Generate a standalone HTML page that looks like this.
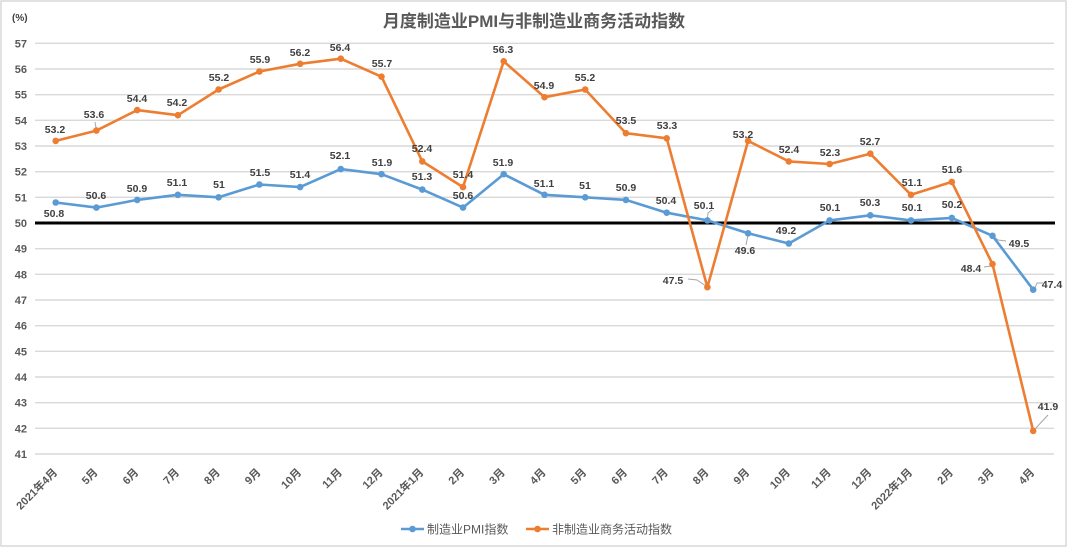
<!DOCTYPE html>
<html>
<head>
<meta charset="utf-8">
<style>
html,body{margin:0;padding:0;background:#fff;}
svg{display:block;}
text{font-family:"Liberation Sans","Noto Sans CJK SC",sans-serif;}
.dl{font-size:10.5px;font-weight:bold;fill:#404040;text-anchor:middle;}
.yl{font-size:11px;font-weight:bold;fill:#595959;text-anchor:end;}
.xl{font-size:11px;font-weight:bold;fill:#595959;text-anchor:end;}
</style>
</head>
<body>
<svg width="1069" height="547" viewBox="0 0 1069 547" xmlns="http://www.w3.org/2000/svg">
<rect x="0" y="0" width="1069" height="547" fill="#fff"/>
<rect x="1" y="1" width="1065" height="545" fill="none" stroke="#d9d9d9" stroke-width="1.5"/>

<text x="534" y="27" text-anchor="middle" style="font-size:17px;font-weight:bold;fill:#595959;font-family:'Liberation Sans','Noto Sans CJK SC',sans-serif;">月度制造业PMI与非制造业商务活动指数</text>

<text x="12" y="21" style="font-size:10px;font-weight:bold;fill:#404040;">(%)</text>

<!-- gridlines -->
<g stroke="#d9d9d9" stroke-width="1.4">
<line x1="35" x2="1054" y1="43.3" y2="43.3"/>
<line x1="35" x2="1054" y1="69.0" y2="69.0"/>
<line x1="35" x2="1054" y1="94.7" y2="94.7"/>
<line x1="35" x2="1054" y1="120.3" y2="120.3"/>
<line x1="35" x2="1054" y1="146.0" y2="146.0"/>
<line x1="35" x2="1054" y1="171.7" y2="171.7"/>
<line x1="35" x2="1054" y1="197.3" y2="197.3"/>
<line x1="35" x2="1054" y1="248.7" y2="248.7"/>
<line x1="35" x2="1054" y1="274.3" y2="274.3"/>
<line x1="35" x2="1054" y1="300.0" y2="300.0"/>
<line x1="35" x2="1054" y1="325.7" y2="325.7"/>
<line x1="35" x2="1054" y1="351.3" y2="351.3"/>
<line x1="35" x2="1054" y1="377.0" y2="377.0"/>
<line x1="35" x2="1054" y1="402.7" y2="402.7"/>
<line x1="35" x2="1054" y1="428.3" y2="428.3"/>
<line x1="35" x2="1054" y1="454.0" y2="454.0"/>
</g>
<line x1="35" x2="1055" y1="223" y2="223" stroke="#000" stroke-width="3"/>

<!-- y labels -->
<g class="yl">
<text x="27" y="47.3">57</text>
<text x="27" y="73.0">56</text>
<text x="27" y="98.7">55</text>
<text x="27" y="124.3">54</text>
<text x="27" y="150.0">53</text>
<text x="27" y="175.7">52</text>
<text x="27" y="201.3">51</text>
<text x="27" y="227.0">50</text>
<text x="27" y="252.7">49</text>
<text x="27" y="278.3">48</text>
<text x="27" y="304.0">47</text>
<text x="27" y="329.7">46</text>
<text x="27" y="355.3">45</text>
<text x="27" y="381.0">44</text>
<text x="27" y="406.7">43</text>
<text x="27" y="432.3">42</text>
<text x="27" y="458.0">41</text>
</g>

<!-- x labels -->
<g class="xl">
<text transform="translate(58,473) rotate(-45)">2021年4月</text>
<text transform="translate(98.4,473) rotate(-45)">5月</text>
<text transform="translate(139.2,473) rotate(-45)">6月</text>
<text transform="translate(179.9,473) rotate(-45)">7月</text>
<text transform="translate(220.6,473) rotate(-45)">8月</text>
<text transform="translate(261.4,473) rotate(-45)">9月</text>
<text transform="translate(302.1,473) rotate(-45)">10月</text>
<text transform="translate(342.8,473) rotate(-45)">11月</text>
<text transform="translate(383.5,473) rotate(-45)">12月</text>
<text transform="translate(424.3,473) rotate(-45)">2021年1月</text>
<text transform="translate(465.0,473) rotate(-45)">2月</text>
<text transform="translate(505.7,473) rotate(-45)">3月</text>
<text transform="translate(546.5,473) rotate(-45)">4月</text>
<text transform="translate(587.2,473) rotate(-45)">5月</text>
<text transform="translate(627.9,473) rotate(-45)">6月</text>
<text transform="translate(668.7,473) rotate(-45)">7月</text>
<text transform="translate(709.4,473) rotate(-45)">8月</text>
<text transform="translate(750.1,473) rotate(-45)">9月</text>
<text transform="translate(790.8,473) rotate(-45)">10月</text>
<text transform="translate(831.6,473) rotate(-45)">11月</text>
<text transform="translate(872.3,473) rotate(-45)">12月</text>
<text transform="translate(913.0,473) rotate(-45)">2022年1月</text>
<text transform="translate(953.8,473) rotate(-45)">2月</text>
<text transform="translate(994.5,473) rotate(-45)">3月</text>
<text transform="translate(1035.2,473) rotate(-45)">4月</text>
</g>

<!-- leader lines -->
<g stroke="#a6a6a6" stroke-width="1" fill="none">
<line x1="95" y1="122" x2="96.4" y2="130"/>
<polyline points="688,279 697,280 707.4,287"/>
<polyline points="712,210 708,213 707.4,219"/>
<line x1="746" y1="245" x2="748" y2="235"/>
<line x1="984" y1="267" x2="991" y2="266"/>
<polyline points="1006,241 998,240 994,237"/>
<polyline points="1043,283 1037,283 1035,288"/>
<line x1="1048" y1="415" x2="1035" y2="429"/>
</g>

<!-- manufacturing series -->
<polyline fill="none" stroke="#5B9BD5" stroke-width="2.6" stroke-linejoin="round"
points="55.7,202.5 96.4,207.6 137.2,199.9 177.9,194.8 218.6,197.3 259.4,184.5 300.1,187.1 340.8,169.1 381.5,174.2 422.3,189.6 463.0,207.6 503.7,174.2 544.5,194.8 585.2,197.3 625.9,199.9 666.7,212.7 707.4,220.4 748.1,233.3 788.8,243.5 829.6,220.4 870.3,215.3 911.0,220.4 951.8,217.9 992.5,235.8 1033.2,289.7"/>
<g fill="#5B9BD5">
<circle cx="55.7" cy="202.5" r="3.3"/><circle cx="96.4" cy="207.6" r="3.3"/><circle cx="137.2" cy="199.9" r="3.3"/><circle cx="177.9" cy="194.8" r="3.3"/><circle cx="218.6" cy="197.3" r="3.3"/><circle cx="259.4" cy="184.5" r="3.3"/><circle cx="300.1" cy="187.1" r="3.3"/><circle cx="340.8" cy="169.1" r="3.3"/><circle cx="381.5" cy="174.2" r="3.3"/><circle cx="422.3" cy="189.6" r="3.3"/><circle cx="463.0" cy="207.6" r="3.3"/><circle cx="503.7" cy="174.2" r="3.3"/><circle cx="544.5" cy="194.8" r="3.3"/><circle cx="585.2" cy="197.3" r="3.3"/><circle cx="625.9" cy="199.9" r="3.3"/><circle cx="666.7" cy="212.7" r="3.3"/><circle cx="707.4" cy="220.4" r="3.3"/><circle cx="748.1" cy="233.3" r="3.3"/><circle cx="788.8" cy="243.5" r="3.3"/><circle cx="829.6" cy="220.4" r="3.3"/><circle cx="870.3" cy="215.3" r="3.3"/><circle cx="911.0" cy="220.4" r="3.3"/><circle cx="951.8" cy="217.9" r="3.3"/><circle cx="992.5" cy="235.8" r="3.3"/><circle cx="1033.2" cy="289.7" r="3.3"/>
</g>

<!-- non-manufacturing series -->
<polyline fill="none" stroke="#ED7D31" stroke-width="2.6" stroke-linejoin="round"
points="55.7,140.9 96.4,130.6 137.2,110.1 177.9,115.2 218.6,89.5 259.4,71.5 300.1,63.8 340.8,58.7 381.5,76.7 422.3,161.4 463.0,187.1 503.7,61.3 544.5,97.2 585.2,89.5 625.9,133.2 666.7,138.3 707.4,287.2 748.1,140.9 788.8,161.4 829.6,164.0 870.3,153.7 911.0,194.8 951.8,181.9 992.5,264.1 1033.2,430.9"/>
<g fill="#ED7D31">
<circle cx="55.7" cy="140.9" r="3.3"/><circle cx="96.4" cy="130.6" r="3.3"/><circle cx="137.2" cy="110.1" r="3.3"/><circle cx="177.9" cy="115.2" r="3.3"/><circle cx="218.6" cy="89.5" r="3.3"/><circle cx="259.4" cy="71.5" r="3.3"/><circle cx="300.1" cy="63.8" r="3.3"/><circle cx="340.8" cy="58.7" r="3.3"/><circle cx="381.5" cy="76.7" r="3.3"/><circle cx="422.3" cy="161.4" r="3.3"/><circle cx="463.0" cy="187.1" r="3.3"/><circle cx="503.7" cy="61.3" r="3.3"/><circle cx="544.5" cy="97.2" r="3.3"/><circle cx="585.2" cy="89.5" r="3.3"/><circle cx="625.9" cy="133.2" r="3.3"/><circle cx="666.7" cy="138.3" r="3.3"/><circle cx="707.4" cy="287.2" r="3.3"/><circle cx="748.1" cy="140.9" r="3.3"/><circle cx="788.8" cy="161.4" r="3.3"/><circle cx="829.6" cy="164.0" r="3.3"/><circle cx="870.3" cy="153.7" r="3.3"/><circle cx="911.0" cy="194.8" r="3.3"/><circle cx="951.8" cy="181.9" r="3.3"/><circle cx="992.5" cy="264.1" r="3.3"/><circle cx="1033.2" cy="430.9" r="3.3"/>
</g>

<!-- manufacturing data labels -->
<g class="dl">
<text x="54" y="217">50.8</text>
<text x="96" y="199">50.6</text>
<text x="137" y="192">50.9</text>
<text x="177" y="186">51.1</text>
<text x="219" y="188">51</text>
<text x="260" y="176">51.5</text>
<text x="300" y="178">51.4</text>
<text x="340" y="159">52.1</text>
<text x="382" y="166">51.9</text>
<text x="422" y="180">51.3</text>
<text x="463" y="199">50.6</text>
<text x="503" y="166">51.9</text>
<text x="544" y="187">51.1</text>
<text x="585" y="189">51</text>
<text x="626" y="191">50.9</text>
<text x="666" y="204">50.4</text>
<text x="704" y="209">50.1</text>
<text x="745" y="254">49.6</text>
<text x="786" y="234">49.2</text>
<text x="830" y="211">50.1</text>
<text x="870" y="206">50.3</text>
<text x="912" y="211">50.1</text>
<text x="952" y="208">50.2</text>
<text x="1019" y="247">49.5</text>
<text x="1052" y="288">47.4</text>
</g>

<!-- non-manufacturing data labels -->
<g class="dl">
<text x="55" y="133">53.2</text>
<text x="94" y="118">53.6</text>
<text x="137" y="102">54.4</text>
<text x="177" y="106">54.2</text>
<text x="219" y="81">55.2</text>
<text x="260" y="63">55.9</text>
<text x="300" y="56">56.2</text>
<text x="340" y="51">56.4</text>
<text x="382" y="67">55.7</text>
<text x="422" y="152">52.4</text>
<text x="463" y="178">51.4</text>
<text x="503" y="53">56.3</text>
<text x="544" y="89">54.9</text>
<text x="585" y="81">55.2</text>
<text x="626" y="124">53.5</text>
<text x="667" y="129">53.3</text>
<text x="673" y="284">47.5</text>
<text x="743" y="138">53.2</text>
<text x="789" y="153">52.4</text>
<text x="830" y="156">52.3</text>
<text x="870" y="145">52.7</text>
<text x="912" y="186">51.1</text>
<text x="952" y="173">51.6</text>
<text x="971" y="272">48.4</text>
<text x="1048" y="410">41.9</text>
</g>

<!-- legend -->
<line x1="401" x2="424" y1="529" y2="529" stroke="#5B9BD5" stroke-width="2.6"/>
<circle cx="412.5" cy="529" r="3.3" fill="#5B9BD5"/>
<text x="427" y="533.5" style="font-size:12px;fill:#595959;">制造业PMI指数</text>
<line x1="526" x2="549" y1="529" y2="529" stroke="#ED7D31" stroke-width="2.6"/>
<circle cx="537.5" cy="529" r="3.3" fill="#ED7D31"/>
<text x="552" y="533.5" style="font-size:12px;fill:#595959;">非制造业商务活动指数</text>
</svg>
</body>
</html>
